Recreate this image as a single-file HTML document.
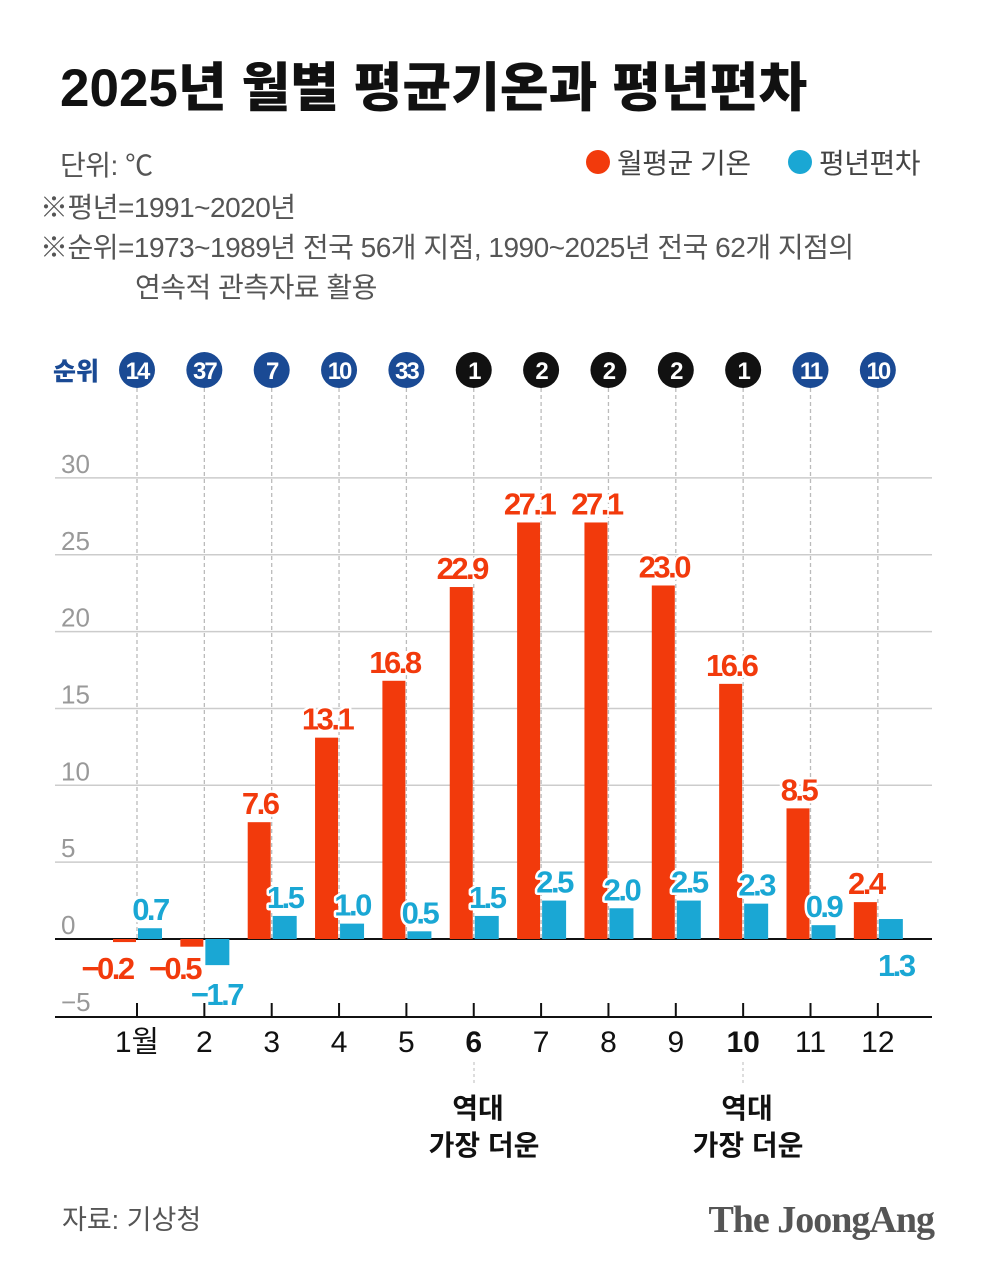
<!DOCTYPE html>
<html><head><meta charset="utf-8"><style>
body{margin:0;background:#fff;}
svg{display:block;font-family:"Liberation Sans","Noto Sans CJK KR",sans-serif;}
.lbl{font-weight:bold;font-size:31px;letter-spacing:-2.5px;paint-order:stroke;stroke:#fff;stroke-width:5px;stroke-linejoin:round;text-anchor:middle;}
</style></head><body>
<svg id="chart" width="1000" height="1275" viewBox="0 0 1000 1275">
<text x="60" y="106" font-size="53" font-weight="900" fill="#111" letter-spacing="0" font-family="'Liberation Sans','Noto Sans CJK KR',sans-serif">2025년 월별 평균기온과 평년편차</text>
<g fill="#555" font-size="28" letter-spacing="-0.5">
<text x="60" y="175">단위: ℃</text>
<text x="40" y="217">※평년=1991~2020년</text>
<text x="40" y="257">※순위=1973~1989년 전국 56개 지점, 1990~2025년 전국 62개 지점의</text>
<text x="135" y="297">연속적 관측자료 활용</text>
</g>
<g font-size="28" fill="#444" letter-spacing="-0.5">
<circle cx="598" cy="162" r="12" fill="#f23a0c"/>
<text x="617" y="173">월평균 기온</text>
<circle cx="800" cy="162" r="12" fill="#1aa7d4"/>
<text x="819" y="173">평년편차</text>
</g>
<text x="53" y="380" font-size="25" font-weight="900" fill="#1a4a94">순위</text>
<g id="grid"></g><g id="dash"></g><g id="bars"></g><g id="labels"></g><g id="ranks"></g><g id="xaxis"></g>
<g font-size="28" font-weight="bold" fill="#111" text-anchor="middle">
<line x1="474" y1="1062" x2="474" y2="1086" stroke="#bbb" stroke-dasharray="3,3"/>
<text x="478" y="1118">역대</text><text x="484" y="1155">가장 더운</text>
<line x1="743" y1="1062" x2="743" y2="1086" stroke="#bbb" stroke-dasharray="3,3"/>
<text x="747" y="1118">역대</text><text x="748" y="1155">가장 더운</text>
</g>
<text x="62" y="1229" font-size="27" fill="#555">자료: 기상청</text>
<text x="934" y="1232" font-size="38" font-weight="bold" fill="#555" text-anchor="end" font-family="'Liberation Serif',serif" letter-spacing="-1">The JoongAng</text>
</svg>
<script>
const months=["1월","2","3","4","5","6","7","8","9","10","11","12"];
const temps=[-0.2,-0.5,7.6,13.1,16.8,22.9,27.1,27.1,23.0,16.6,8.5,2.4];
const anomalies=[0.7,-1.7,1.5,1.0,0.5,1.5,2.5,2.0,2.5,2.3,0.9,1.3];
const ranks=[14,37,7,10,33,1,2,2,2,1,11,10];
const yTicks=[30,25,20,15,10,5,0,-5];
const NS="http://www.w3.org/2000/svg";
const y=v=>939-v*15.37;
const x=i=>137+i*67.35;
function mk(tag,attrs,parent,txt){const e=document.createElementNS(NS,tag);for(const k in attrs)e.setAttribute(k,attrs[k]);if(txt!==undefined)e.textContent=txt;document.getElementById(parent).appendChild(e);return e;}
yTicks.forEach(t=>{
 if(t>-5){const l=mk('line',{x1:55,x2:932,y1:y(t),y2:y(t),stroke:t===0?'#111':'#ccc','stroke-width':t===0?2:1.5},'grid');
 
 }
 const tx=mk('text',{x:61,y:y(t)-5,'font-size':26,fill:'#999'},'grid',t<0?'\u2212'+(-t):t);
 
 
});
mk('line',{x1:55,x2:932,y1:1017,y2:1017,stroke:'#111','stroke-width':2},'grid');
months.forEach((m,i)=>{
 const cx=x(i);
 const d=mk('line',{x1:cx,x2:cx,y1:388,y2:939,stroke:'#bbb','stroke-width':1.3,'stroke-dasharray':'4,3'},'dash');
 
 
 const t=temps[i],a=anomalies[i];
 const rb=mk('rect',{x:cx-24,y:Math.min(y(t),y(0)),width:23,height:Math.abs(y(t)-y(0)),fill:'#f23a0c'},'bars');
 
 
 const bb=mk('rect',{x:cx+1,y:Math.min(y(a),y(0)),width:24,height:Math.abs(y(a)-y(0)),fill:'#1aa7d4'},'bars');
 
 
 const fmt=v=>v<0?'\u2212'+(-v).toFixed(1):v.toFixed(1);
 const ty=t>=0?y(t)-8:y(0)+40;
 const tl=mk('text',{x:t<0?cx-30:cx-12,y:ty,fill:'#f23a0c',class:'lbl'},'labels',fmt(t));
 
 
 let ay=a>=0?y(a)-8:y(a)+40, ax=a<0?cx+12:cx+13;
 if(i===11){ay=y(0)+37;ax=cx+18;}
 const al=mk('text',{x:ax,y:ay,fill:'#1aa7d4',class:'lbl'},'labels',fmt(a));
 
 
 const c=mk('circle',{cx:cx,cy:370,r:18,fill:ranks[i]<=5?'#111':'#1a4a94'},'ranks');
 
 
 const rt=mk('text',{x:cx,y:379,'font-size':24,'font-weight':'bold',fill:'#fff','text-anchor':'middle','letter-spacing':-2},'ranks',ranks[i]);
 
 
 mk('line',{x1:cx,x2:cx,y1:1003,y2:1017,stroke:'#111','stroke-width':2},'xaxis');
 const xl=mk('text',{x:cx,y:1052,'font-size':30,'font-weight':(i===5||i===9)?'bold':'normal',fill:'#111','text-anchor':'middle'},'xaxis',m);
 
 
});
</script>
</body></html>
